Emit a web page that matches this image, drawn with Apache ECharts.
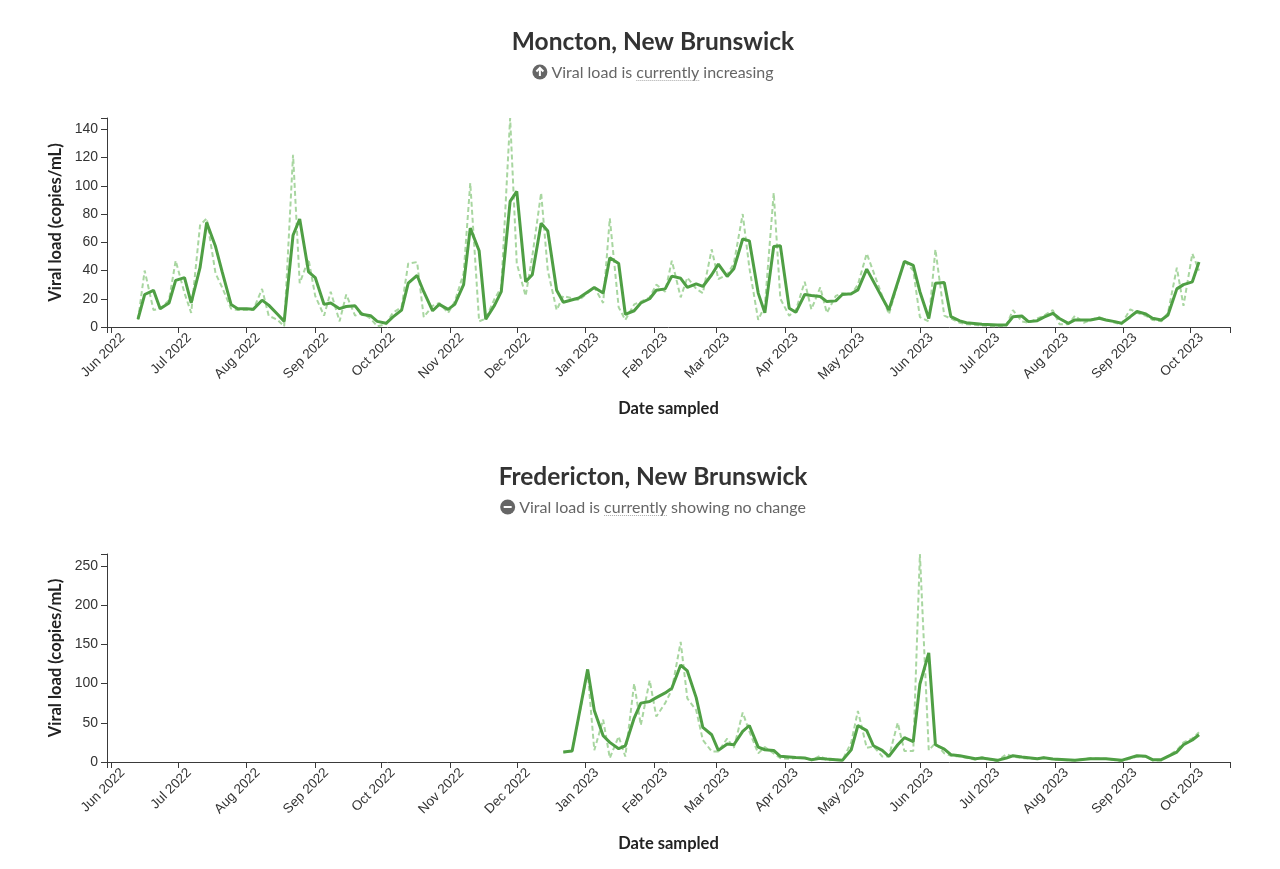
<!DOCTYPE html>
<html>
<head>
<meta charset="utf-8">
<title>Viral load - New Brunswick</title>
<script src="https://cdn.jsdelivr.net/npm/echarts@6.0.0/dist/echarts.min.js"></script>
<style>
  html, body { margin: 0; padding: 0; background: #fff; }
  #chart { width: 1280px; height: 869px; }
</style>
</head>
<body>
<div id="chart"></div>
<script>
// x axis: domain and month ticks
var xRange = ['2022-05-30', '2023-10-19'];
var monthTicks = [
    '2022-06-01', '2022-07-01', '2022-08-01', '2022-09-01', '2022-10-01', '2022-11-01', '2022-12-01',
    '2023-01-01', '2023-02-01', '2023-03-01', '2023-04-01', '2023-05-01', '2023-06-01', '2023-07-01',
    '2023-08-01', '2023-09-01', '2023-10-01'
];
var monthNames = ['Jan', 'Feb', 'Mar', 'Apr', 'May', 'Jun', 'Jul', 'Aug', 'Sep', 'Oct', 'Nov', 'Dec'];

// Moncton
var monctonDates = [
    '2022-06-13', '2022-06-16', '2022-06-20', '2022-06-23', '2022-06-27', '2022-06-30',
    '2022-07-04', '2022-07-07', '2022-07-11', '2022-07-14', '2022-07-18', '2022-07-21', '2022-07-25', '2022-07-28',
    '2022-08-01', '2022-08-04', '2022-08-08', '2022-08-11', '2022-08-15', '2022-08-18', '2022-08-22', '2022-08-25', '2022-08-29',
    '2022-09-01', '2022-09-05', '2022-09-08', '2022-09-12', '2022-09-15', '2022-09-19', '2022-09-22', '2022-09-26', '2022-09-29',
    '2022-10-03', '2022-10-06', '2022-10-10', '2022-10-13', '2022-10-17', '2022-10-20', '2022-10-24', '2022-10-27', '2022-10-31',
    '2022-11-03', '2022-11-07', '2022-11-10', '2022-11-14', '2022-11-17', '2022-11-21', '2022-11-24', '2022-11-28',
    '2022-12-01', '2022-12-05', '2022-12-08', '2022-12-12', '2022-12-15', '2022-12-19', '2022-12-22', '2022-12-29',
    '2023-01-05', '2023-01-09', '2023-01-12', '2023-01-16', '2023-01-19', '2023-01-23', '2023-01-26', '2023-01-30',
    '2023-02-02', '2023-02-06', '2023-02-09', '2023-02-13', '2023-02-16', '2023-02-20', '2023-02-23', '2023-02-27',
    '2023-03-02', '2023-03-06', '2023-03-09', '2023-03-13', '2023-03-16', '2023-03-20', '2023-03-23', '2023-03-27', '2023-03-30',
    '2023-04-03', '2023-04-06', '2023-04-10', '2023-04-13', '2023-04-17', '2023-04-20', '2023-04-24', '2023-04-27',
    '2023-05-01', '2023-05-04', '2023-05-08', '2023-05-18', '2023-05-25', '2023-05-29',
    '2023-06-01', '2023-06-05', '2023-06-08', '2023-06-12', '2023-06-15', '2023-06-19', '2023-06-22', '2023-06-29',
    '2023-07-06', '2023-07-10', '2023-07-13', '2023-07-17', '2023-07-20', '2023-07-24', '2023-07-27', '2023-07-31',
    '2023-08-03', '2023-08-07', '2023-08-10', '2023-08-14', '2023-08-17', '2023-08-21', '2023-08-24', '2023-08-28', '2023-08-31',
    '2023-09-04', '2023-09-07', '2023-09-11', '2023-09-14', '2023-09-18', '2023-09-21', '2023-09-25', '2023-09-28',
    '2023-10-02', '2023-10-05'
];
var monctonSamples = [
    5, 40, 12, 13, 19, 47,
    24, 10, 72, 77, 38, 28, 13, 12,
    12, 12, 27, 8, 5, 0.5, 122, 31, 48,
    22, 8, 25, 4, 23, 8, 10, 6, 0.5,
    2, 10, 14, 45, 46, 7, 15, 17, 10,
    18, 38, 102, 4, 6, 20, 28, 148,
    45, 22, 50, 95, 40, 12, 22, 19,
    28, 17, 77, 14, 5, 16, 18, 21,
    30, 25, 47, 21, 35, 27, 24, 55,
    34, 37, 45, 80, 42, 5, 15, 95, 20,
    8, 12, 32, 12.5, 28, 10, 22, 24,
    23, 30, 52, 9, 47, 40,
    7, 4, 55, 8, 6, 3, 2, 1,
    0.5, 1, 12, 4, 3, 6, 8, 12,
    2, 2, 8, 3, 5, 7, 5, 3, 2,
    12.5, 10, 8, 5, 4, 10, 42, 15,
    52, 40
];
var monctonAverage = [
    5.5, 23, 26, 13, 17, 33,
    35, 17, 42, 74, 57, 39, 16, 13,
    13, 12.5, 19, 15.5, 9, 4, 65, 76.5, 39,
    35, 16, 17, 13, 14.5, 15, 9, 8, 4,
    2.6, 7, 12, 31, 36.5, 25, 11.5, 16, 12.5,
    16, 30, 70, 54, 5.5, 15.5, 25, 89,
    96, 32, 37, 73.5, 68, 26, 17.5, 20.5,
    28, 24, 49, 45, 9, 11.5, 17, 20,
    26, 27, 36, 34.5, 28, 30.5, 28.7, 37,
    44.5, 35.8, 41.2, 62.3, 61, 24, 10, 57, 57.6,
    13.3, 10.4, 23, 22.3, 21.6, 18, 18.5, 23,
    23.5, 26.3, 41, 12, 46.4, 43.6,
    25, 6, 31, 31.5, 7.3, 4.3, 3, 2,
    1.4, 1.4, 7.3, 7.8, 3.8, 4.5, 7, 9.7,
    6, 2.6, 5, 5, 5, 6.2, 5, 3.8, 2.6,
    7.3, 11, 9.2, 6.2, 5, 8.5, 27, 30,
    32, 46
];

// Fredericton
var frederictonDates = [
    '2022-12-22', '2022-12-26',
    '2023-01-02', '2023-01-05', '2023-01-09', '2023-01-12', '2023-01-16', '2023-01-19', '2023-01-23', '2023-01-26', '2023-01-30',
    '2023-02-02', '2023-02-06', '2023-02-09', '2023-02-13', '2023-02-16', '2023-02-20', '2023-02-23', '2023-02-27',
    '2023-03-02', '2023-03-06', '2023-03-09', '2023-03-13', '2023-03-16', '2023-03-20', '2023-03-23', '2023-03-27', '2023-03-30',
    '2023-04-03', '2023-04-06', '2023-04-10', '2023-04-13', '2023-04-17', '2023-04-20', '2023-04-24', '2023-04-27',
    '2023-05-01', '2023-05-04', '2023-05-08', '2023-05-11', '2023-05-15', '2023-05-18', '2023-05-22', '2023-05-25', '2023-05-29',
    '2023-06-01', '2023-06-05', '2023-06-08', '2023-06-12', '2023-06-15', '2023-06-19', '2023-06-26', '2023-06-29',
    '2023-07-06', '2023-07-10', '2023-07-13', '2023-07-17', '2023-07-24', '2023-07-27', '2023-07-31',
    '2023-08-10', '2023-08-17', '2023-08-24', '2023-08-31',
    '2023-09-07', '2023-09-11', '2023-09-14', '2023-09-18', '2023-09-25', '2023-09-28',
    '2023-10-02', '2023-10-05'
];
var frederictonSamples = [
    12, 14,
    115, 15, 54, 5, 32.6, 7, 100, 47, 104,
    58, 75, 92, 153, 81, 66, 28, 13.5,
    13.5, 30, 18, 63, 39, 11, 19, 11, 5,
    4, 5, 5, 2, 8, 2, 3, 2,
    25, 65, 18, 20, 7, 7, 50, 14, 14,
    265, 15, 24, 11, 8, 7, 3, 6,
    1, 10, 7, 5, 4, 6, 3,
    2, 5, 4, 1,
    7, 7, 2, 2, 15, 25,
    30, 38
];
var frederictonAverage = [
    12.7, 14,
    118, 65.6, 33.4, 25, 17, 20.7, 56, 75, 77,
    82, 88, 94, 123.5, 116, 82, 44, 34.7,
    14.8, 23, 22, 39, 46.5, 19, 15.6, 14.8, 7.2,
    6.5, 5.8, 5, 3, 4.6, 3.8, 3, 2.1,
    15.6, 46.5, 40, 20.7, 14.8, 7.2, 22, 31, 26,
    99.4, 139, 22, 16.5, 9.3, 8, 4.2, 5,
    2.1, 5, 8, 6.3, 4.2, 5.5, 3.8,
    2.1, 4.2, 4.2, 2.1,
    8, 7.2, 3, 3, 12.7, 22,
    28, 34.7
];

var CENTER_X = 653;
var AXIS_COLOR = '#3a3a3a';
var SOLID_COLOR = '#4f9f44';
var DASHED_COLOR = '#a8d6a0';

function toTime(s) {
    var p = s.split('-');
    return new Date(+p[0], +p[1] - 1, +p[2]).getTime();
}
function pairs(dates, values) {
    return dates.map(function (d, i) { return [toTime(d), values[i]]; });
}

var measureCtx = document.createElement('canvas').getContext('2d');
function textWidth(str, size) {
    measureCtx.font = size + 'px Lato';
    return measureCtx.measureText(str).width;
}

function titleText(cy, text) {
    return {
        type: 'text', x: CENTER_X, y: cy,
        style: {
            text: text, fontFamily: 'Lato', fontWeight: 'bold', fontSize: 24.5, fill: '#333',
            textAlign: 'center', align: 'center', textVerticalAlign: 'middle', verticalAlign: 'middle'
        }
    };
}

function subtitle(cy, prefix, word, suffix, icon) {
    var full = prefix + word + suffix;
    var w = textWidth(full, 16);
    var x0 = CENTER_X - (15 + 4 + w) / 2;
    var cx = x0 + 7.5;
    var tx = x0 + 19;
    var ux = tx + textWidth(prefix, 16);
    var uw = textWidth(word, 16);
    var els = [
        {type: 'circle', shape: {cx: cx, cy: cy, r: 7.5}, style: {fill: '#666'}},
        {
            type: 'text', x: tx, y: cy + 1,
            style: {
                text: full, fontFamily: 'Lato', fontSize: 16, fill: '#666',
                textAlign: 'left', align: 'left', textVerticalAlign: 'middle', verticalAlign: 'middle'
            }
        },
        {type: 'line', shape: {x1: ux, y1: cy + 8.5, x2: ux + uw, y2: cy + 8.5}, style: {stroke: '#aaa', lineWidth: 1, lineDash: [1, 1]}}
    ];
    if (icon === 'up') {
        els.push({type: 'polyline', shape: {points: [[cx - 3.5, cy - 0.5], [cx, cy - 4], [cx + 3.5, cy - 0.5]]}, style: {stroke: '#fff', lineWidth: 2, fill: null}});
        els.push({type: 'line', shape: {x1: cx, y1: cy - 3.5, x2: cx, y2: cy + 4}, style: {stroke: '#fff', lineWidth: 2}});
    } else {
        els.push({type: 'rect', shape: {x: cx - 4, y: cy - 1, width: 8, height: 2}, style: {fill: '#fff'}});
    }
    return els;
}

var xMin = toTime(xRange[0]);
var xMax = toTime(xRange[1]);
var tickValues = monthTicks.map(toTime);

function xAxisFor(gridIndex) {
    return {
        type: 'value',
        gridIndex: gridIndex,
        min: xMin,
        max: xMax,
        name: 'Date sampled',
        nameLocation: 'middle',
        nameGap: 73,
        nameTextStyle: {fontFamily: 'Lato', fontWeight: 'bold', fontSize: 16.5, color: '#222'},
        axisLine: {lineStyle: {color: AXIS_COLOR, width: 1}},
        axisTick: {length: 6, customValues: tickValues.concat([xMin, xMax]), lineStyle: {color: AXIS_COLOR}},
        axisLabel: {
            customValues: tickValues,
            rotate: 45,
            margin: 20,
            padding: [0, -16, 0, 0],
            color: '#333',
            fontFamily: 'Liberation Sans',
            fontSize: 13.5,
            formatter: function (v) {
                var d = new Date(v);
                return monthNames[d.getMonth()] + ' ' + d.getFullYear();
            }
        },
        splitLine: {show: false}
    };
}

function yAxisFor(gridIndex, max, interval) {
    return {
        type: 'value',
        gridIndex: gridIndex,
        min: 0,
        max: max,
        interval: interval,
        name: 'Viral load (copies/mL)',
        nameLocation: 'middle',
        nameGap: 43,
        nameTextStyle: {fontFamily: 'Lato', fontWeight: 'bold', fontSize: 16.5, color: '#222'},
        axisLine: {show: true, lineStyle: {color: AXIS_COLOR, width: 1}},
        axisTick: {show: true, length: 6, lineStyle: {color: AXIS_COLOR}},
        axisLabel: {
            margin: 9,
            color: '#333',
            fontFamily: 'Liberation Sans',
            fontSize: 14,
            formatter: function (v) { return v % interval === 0 ? String(v) : ''; }
        },
        splitLine: {show: false}
    };
}

function lineSeries(idx, data, solid) {
    return {
        type: 'line',
        xAxisIndex: idx,
        yAxisIndex: idx,
        data: data,
        showSymbol: false,
        symbol: 'none',
        silent: true,
        z: solid ? 3 : 2,
        lineStyle: solid
            ? {color: SOLID_COLOR, width: 3}
            : {color: DASHED_COLOR, width: 2, type: [5, 3]}
    };
}

var chart = echarts.init(document.getElementById('chart'));
chart.setOption({
    animation: false,
    backgroundColor: '#fff',
    grid: [
        {left: 107, right: 50, top: 118, height: 209},
        {left: 107, right: 50, top: 554, height: 208}
    ],
    xAxis: [xAxisFor(0), xAxisFor(1)],
    yAxis: [yAxisFor(0, 148, 20), yAxisFor(1, 265, 50)],
    series: [
        lineSeries(0, pairs(monctonDates, monctonSamples), false),
        lineSeries(0, pairs(monctonDates, monctonAverage), true),
        lineSeries(1, pairs(frederictonDates, frederictonSamples), false),
        lineSeries(1, pairs(frederictonDates, frederictonAverage), true)
    ],
    graphic: [titleText(42, 'Moncton, New Brunswick')]
        .concat(subtitle(72, 'Viral load is ', 'currently', ' increasing', 'up'))
        .concat([titleText(477, 'Fredericton, New Brunswick')])
        .concat(subtitle(507, 'Viral load is ', 'currently', ' showing no change', 'minus'))
});
</script>
</body>
</html>
